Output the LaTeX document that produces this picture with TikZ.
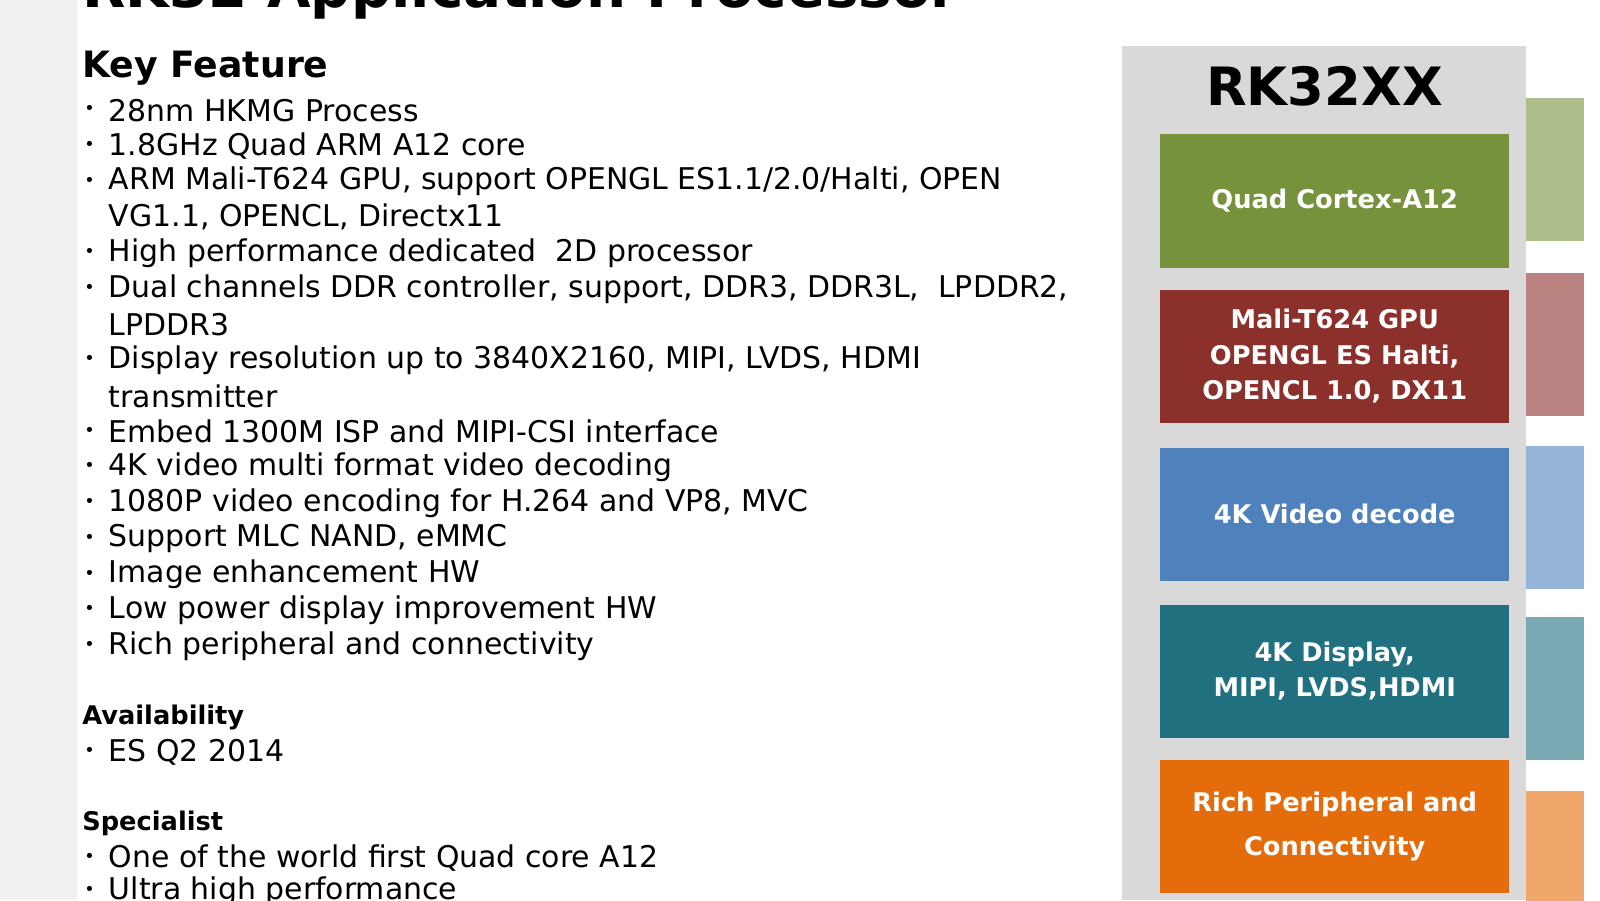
\documentclass[tikz,border=0pt]{standalone}
\usepackage{fontspec}
\setmainfont{DejaVu Sans}
\definecolor{cpugreen}{RGB}{118,146,60}
\definecolor{gpured}{RGB}{140,48,44}
\definecolor{vidblue}{RGB}{79,129,189}
\definecolor{dispteal}{RGB}{32,112,128}
\definecolor{periorange}{RGB}{228,108,10}
\definecolor{panelgray}{RGB}{217,217,217}
\tikzset{
  feat/.style={anchor=west, inner sep=0pt, font=\fontsize{8.5}{10}\selectfont},
  dot/.style={anchor=west, inner sep=0pt, font=\fontsize{5}{6}\selectfont},
  head/.style={anchor=west, inner sep=0pt, font=\bfseries\fontsize{7.3}{9}\selectfont},
  block/.style={draw=none, minimum width=3.49cm, minimum height=1.33cm, text=white,
    align=center, font=\bfseries\fontsize{7.3}{10}\selectfont},
}
\begin{document}
\begin{tikzpicture}[x=0.0102cm, y=-0.0102cm]
  \useasboundingbox (0,0) rectangle (1568,882);
  % blurred left strip and right ghost blocks
  \fill[black!6] (0,0) rectangle (75,882);
  \foreach \y/\c in {96/cpugreen, 268/gpured, 437/vidblue, 605/dispteal, 775/periorange}
    \fill[\c!60] (1495,\y) rectangle (1552,\y+140);
  \fill[panelgray] (1100,45) rectangle (1495,882);
  % title, cut at the top
  \node[anchor=west, inner sep=0pt, font=\bfseries\fontsize{16}{20}\selectfont] (title) at (80,-8) {RK32 Application Processor};
  \node[anchor=west, inner sep=0pt, font=\bfseries\fontsize{10.3}{14}\selectfont] (keyfeat) at (80,67) {Key Feature};
  % feature bullets
  \foreach \y/\t [count=\i] in {108/28nm HKMG Process, 143/1.8GHz Quad ARM A12 core,
      178/{ARM Mali-T624 GPU, support OPENGL ES1.1/2.0/Halti, OPEN},
      248/High performance dedicated\ \ 2D processor,
      283/{Dual channels DDR controller, support, DDR3, DDR3L,\ \ LPDDR2,},
      353/{Display resolution up to 3840X2160, MIPI, LVDS, HDMI},
      423/Embed 1300M ISP and MIPI-CSI interface,
      458/4K video multi format video decoding,
      493/{1080P video encoding for H.264 and VP8, MVC},
      528/{Support MLC NAND, eMMC}, 563/Image enhancement HW,
      598/Low power display improvement HW, 633/Rich peripheral and connectivity,
      737/ES Q2 2014, 841/One of the world first Quad core A12, 873/Ultra high performance}
  {
    \node[dot] (dot\i) at (82,\y) {•};
    \node[feat] (feat\i) at (106,\y) {\t};
  }
  % wrapped continuation lines
  \node[feat] (cont1) at (106,213) {VG1.1, OPENCL, Directx11};
  \node[feat] (cont2) at (106,318) {LPDDR3};
  \node[feat] (cont3) at (106,388) {transmitter};
  \node[head] (avail) at (80,703) {Availability};
  \node[head] (spec) at (80,807) {Specialist};
  % block diagram
  \node[font=\bfseries\fontsize{15}{18}\selectfont] (chip) at (1298,85) {RK32XX};
  \node[block, fill=cpugreen] (cpu) at (1308,197) {Quad Cortex-A12};
  \node[block, fill=gpured] (gpu) at (1308,349) {Mali-T624 GPU\\OPENGL ES Halti,\\OPENCL 1.0, DX11};
  \node[block, fill=vidblue] (vid) at (1308,504) {4K Video decode};
  \node[block, fill=dispteal] (disp) at (1308,658) {4K Display,\\MIPI, LVDS,HDMI};
  \node[block, fill=periorange, font=\bfseries\fontsize{7.3}{12.5}\selectfont] (peri) at (1308,810) {Rich Peripheral and\\Connectivity};
\end{tikzpicture}
\end{document}
